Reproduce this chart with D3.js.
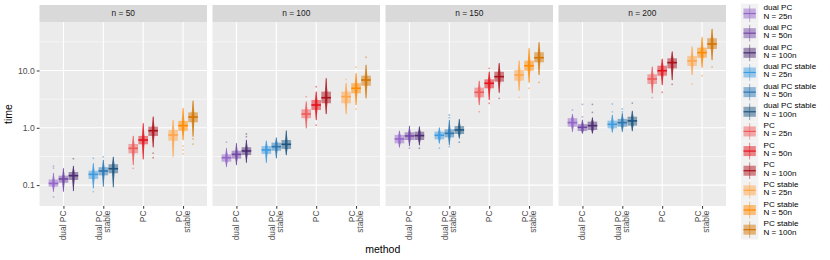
<!DOCTYPE html>
<html><head><meta charset="utf-8">
<script src="https://cdn.jsdelivr.net/npm/d3@7"></script>
<style>body{margin:0;background:#fff;} svg{display:block;font-family:"Liberation Sans",Arial,sans-serif;}</style>
</head><body><svg id="c" width="830" height="260"></svg>
<script>
const panels = ["n = 50", "n = 100", "n = 150", "n = 200"];
const methods = ["dual PC", "dual PC stable", "PC", "PC stable"];
const methodLabels = [["dual PC"], ["dual PC", "stable"], ["PC"], ["PC", "stable"]];
const sizes = ["N = 25n", "N = 50n", "N = 100n"];
const yTicks = [0.1, 1, 10];
const yTickLabels = ["0.1", "1.0", "10.0"];
const colors = [
  ["#9466c9", "#7147a6", "#4b2b72"],
  ["#3d9be0", "#2a77b4", "#1d5580"],
  ["#ef5b5b", "#e3121b", "#ab111b"],
  ["#ffa54a", "#ff8a00", "#d37400"]
];
// per panel, 12 groups ordered method x size
const whiskLo = [
  [0.077,0.077,0.079, 0.088,0.094,0.092, 0.224,0.282,0.457, 0.313,0.612,0.70],
  [0.209,0.224,0.246, 0.246,0.294,0.335, 0.98,1.37,1.74, 1.74,2.50,3.27],
  [0.457,0.48,0.50, 0.536,0.50,0.656, 2.50,3.06,4.1, 4.44,6.12,8.35],
  [0.855,0.80,0.80, 0.834,0.855,0.88, 4.0,5.58,6.82, 8.35,11.2,15.2]
];
const q1s = [
  [0.094,0.110,0.123, 0.128,0.148,0.161, 0.359,0.515,0.72, 0.596,0.889,1.25],
  [0.256,0.289,0.335, 0.35,0.398,0.427, 1.47,2.05,2.68, 2.68,4.0,5.43],
  [0.536,0.612,0.612, 0.63,0.68,0.78, 3.40,4.89,6.38, 6.64,9.9,13.9],
  [1.045,0.88,0.916, 0.98,1.045,1.09, 5.81,8.11,10.9, 12.0,16.7,23.7]
];
const medians = [
  [0.107,0.128,0.146, 0.154,0.176,0.193, 0.438,0.612,0.889, 0.748,1.09,1.54],
  [0.30,0.344,0.394, 0.41,0.468,0.515, 1.74,2.50,3.35, 3.49,4.89,6.82],
  [0.638,0.72,0.73, 0.74,0.80,0.916, 4.16,5.98,7.8, 8.35,12.1,16.7],
  [1.23,1.02,1.09, 1.15,1.23,1.32, 7.1,9.9,13.7, 14.7,20.5,29.0]
];
const q3s = [
  [0.125,0.146,0.169, 0.178,0.205,0.231, 0.521,0.72,1.045, 0.916,1.32,1.86],
  [0.344,0.398,0.457, 0.48,0.55,0.612, 2.10,3.06,4.27, 4.27,5.98,8.11],
  [0.75,0.834,0.855, 0.855,0.94,1.07, 5.01,7.0,9.5, 10.2,14.8,20.8],
  [1.47,1.16,1.28, 1.33,1.43,1.56, 8.58,12.1,16.3, 17.9,25.0,36.5]
];
const whiskHi = [
  [0.161,0.196,0.215, 0.240,0.274,0.31, 0.72,1.20,1.56, 1.37,2.19,2.97],
  [0.438,0.537,0.612, 0.59,0.67,0.889, 2.86,4.27,7.31, 5.98,8.93,12.5],
  [0.88,1.07,1.045, 1.0,1.37,1.41, 6.56,9.5,13.4, 14.8,24.4,31.0],
  [1.72,1.37,1.50, 1.67,1.79,1.96, 11.6,15.9,21.3, 26.0,37.9,53.0]
];
const outliers = [
  [[0.198,0.215,0.062],[],[0.289], [0.294,0.077],[0.31],[], [0.196],[],[0.36,0.30], [],[0.48,0.41,0.35],[0.64,0.52]],
  [[0.56],[],[0.78,0.70], [],[],[], [3.49],[5.2,1.11],[], [7.0],[11.4,2.13],[17.0]],
  [[],[0.44],[0.44], [0.44],[1.67,1.50,0.47],[0.56], [1.91],[10.9,2.68],[3.27], [3.4],[4.9],[6.2]],
  [[2.05],[2.57,1.55],[2.57,1.86], [2.60,1.9],[2.13,1.9],[2.7], [3.35],[4.17],[5.74], [5.81],[8.1],[11.6]]
];

const svg = d3.select("#c");
const plotTop = 22, plotBottom = 206, stripTop = 5;
const panelLeft0 = 39.5, panelW = 167.5, panelStep = 173;
const y = d3.scaleLog().domain([Math.pow(10,-1.365), Math.pow(10,1.846)]).range([plotBottom, plotTop]);
const minorY = [Math.pow(10,-0.5), Math.pow(10,0.5), Math.pow(10,1.5)];

panels.forEach((pName, p) => {
  const left = panelLeft0 + p * panelStep;
  const g = svg.append("g");
  g.append("rect").attr("x", left).attr("y", stripTop).attr("width", panelW).attr("height", plotTop - stripTop).attr("fill", "#d9d9d9");
  g.append("text").attr("x", left + panelW/2).attr("y", (stripTop+plotTop)/2).attr("dy","0.35em")
    .attr("text-anchor","middle").attr("font-size", 8.4).attr("fill","#1a1a1a").text(pName);
  g.append("rect").attr("x", left).attr("y", plotTop).attr("width", panelW).attr("height", plotBottom - plotTop).attr("fill", "#ebebeb");
  const x = d3.scalePoint().domain(methods).range([left, left + panelW]).padding(0.6);
  const unit = x.step();
  minorY.forEach(v => g.append("line").attr("x1", left).attr("x2", left+panelW).attr("y1", y(v)).attr("y2", y(v)).attr("stroke","#fff").attr("stroke-width",0.55));
  yTicks.forEach(v => g.append("line").attr("x1", left).attr("x2", left+panelW).attr("y1", y(v)).attr("y2", y(v)).attr("stroke","#fff").attr("stroke-width",1.1));
  methods.forEach(m => g.append("line").attr("x1", x(m)).attr("x2", x(m)).attr("y1", plotTop).attr("y2", plotBottom).attr("stroke","#fff").attr("stroke-width",1.1));

  const xa = g.append("g").attr("transform", `translate(0,${plotBottom})`).call(d3.axisBottom(x).tickSize(2.75).tickFormat(""));
  xa.select(".domain").remove();
  xa.selectAll(".tick line").attr("stroke","#333").attr("stroke-width",1);
  methods.forEach((m, mi) => {
    const lines = methodLabels[mi];
    const lh = 8.2;
    lines.forEach((t, li) => {
      const off = (li - (lines.length-1)/2) * lh;
      g.append("text").attr("transform", `translate(${x(m)+off},${plotBottom+4.5}) rotate(-90)`)
        .attr("text-anchor","end").attr("dy","0.35em").attr("font-size",8.4).attr("fill","#4d4d4d").text(t);
    });
  });

  methods.forEach((m, mi) => {
    sizes.forEach((s, si) => {
      const k = mi*3 + si;
      const cx = x(m) + (si-1) * unit * 0.25;
      const col = colors[mi][si];
      const bw = 9.6;
      const lo = y(whiskLo[p][k]), hi = y(whiskHi[p][k]);
      const a = y(q1s[p][k]), b = y(q3s[p][k]), md = y(medians[p][k]);
      const w1 = 0.7, w2 = 1.3;
      const pts = [[cx, lo+1], [cx+w1, (lo+a)/2], [cx+w2, a], [cx+w2, b], [cx+w1, (hi+b)/2], [cx, hi-1],
                   [cx-w1, (hi+b)/2], [cx-w2, b], [cx-w2, a], [cx-w1, (lo+a)/2]];
      g.append("line").attr("x1",cx).attr("x2",cx).attr("y1",lo).attr("y2",hi).attr("stroke",col).attr("stroke-width",1).attr("opacity",0.8);
      g.append("polygon").attr("points", pts.map(d=>d.join(",")).join(" ")).attr("fill",col).attr("opacity",0.75);
      g.append("rect").attr("x", cx-bw/2).attr("y", b).attr("width", bw).attr("height", a-b).attr("fill", col).attr("opacity",0.5);
      g.append("line").attr("x1", cx-bw/2).attr("x2", cx+bw/2).attr("y1", md).attr("y2", md).attr("stroke", col).attr("stroke-width",1.6);
      outliers[p][k].forEach(v => g.append("circle").attr("cx", cx).attr("cy", y(v)).attr("r", 0.9).attr("fill", col).attr("opacity",0.45));
    });
  });
});

const ya = svg.append("g").attr("transform", `translate(${panelLeft0},0)`).call(d3.axisLeft(y).tickValues(yTicks).tickFormat((d,i)=>yTickLabels[i]).tickSize(2.75).tickPadding(2));
ya.select(".domain").remove();
ya.selectAll(".tick line").attr("stroke","#333");
ya.selectAll(".tick text").attr("font-size",8.6).attr("fill","#4d4d4d").attr("font-family","Liberation Sans, Arial, sans-serif");

svg.append("text").attr("transform", `translate(12,${(plotTop+plotBottom)/2}) rotate(-90)`).attr("text-anchor","middle").attr("font-size",10.5).attr("fill","#000").text("time");
svg.append("text").attr("x", (panelLeft0 + panelLeft0 + 3*panelStep + panelW)/2).attr("y", 253).attr("text-anchor","middle").attr("font-size",10.5).attr("fill","#000").text("method");

const leg = svg.append("g");
const keyX = 741, keyW = 17.3, keyH = 19.65, keyY0 = 3.7;
let idx = 0;
methods.forEach((m, mi) => {
  sizes.forEach((s, si) => {
    const top = keyY0 + idx*keyH, cy = top + keyH/2, cx = keyX + keyW/2;
    const col = colors[mi][si];
    leg.append("rect").attr("x", keyX).attr("y", top).attr("width", keyW).attr("height", keyH).attr("fill","#f2f2f2");
    leg.append("line").attr("x1",cx).attr("x2",cx).attr("y1",top+1.5).attr("y2",top+keyH-1.5).attr("stroke",col).attr("stroke-width",1).attr("opacity",0.5);
    leg.append("rect").attr("x", keyX+2.5).attr("y", cy-5).attr("width", keyW-5).attr("height", 10).attr("fill", col).attr("opacity",0.5);
    leg.append("line").attr("x1", keyX+2.5).attr("x2", keyX+keyW-2.5).attr("y1", cy).attr("y2", cy).attr("stroke", col).attr("stroke-width",1.2);
    leg.append("text").attr("x", 763.5).attr("y", cy-3.3).attr("font-size",8.1).attr("fill","#000").text(m);
    leg.append("text").attr("x", 763.5).attr("y", cy+5.0).attr("font-size",8.1).attr("fill","#000").text(s);
    idx++;
  });
});
</script></body></html>
